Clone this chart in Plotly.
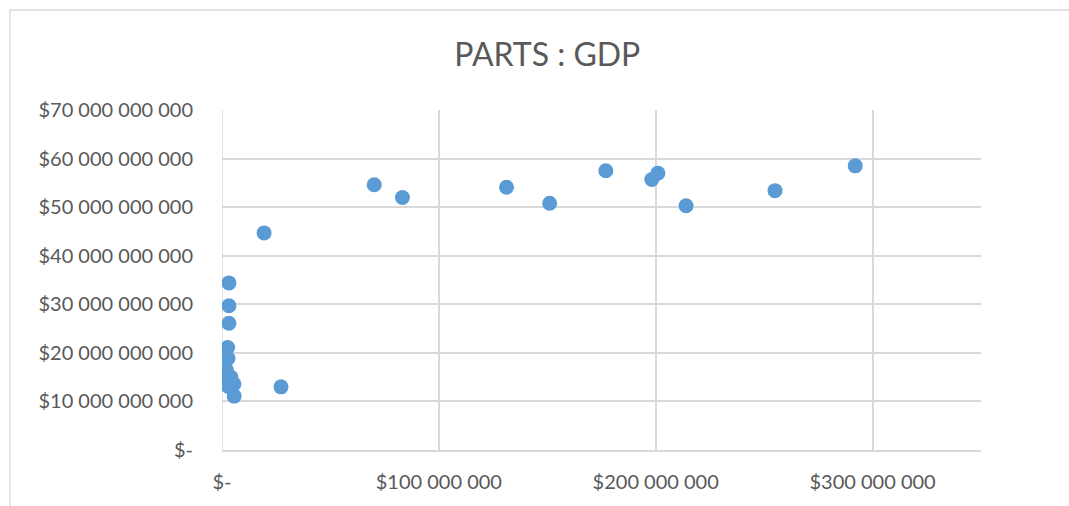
import plotly.graph_objects as go

title = "PARTS : GDP"

# x: GDP-like values (USD), y: PARTS values (USD)
x_values = [70.2e6, 83.2e6, 131.2e6, 151.1e6, 177e6, 198.2e6, 201e6, 214e6, 255e6, 292e6,
            19.4e6, 27.2e6,
            3.2e6, 3.2e6, 3.2e6, 2.6e6, 2.8e6, 2.0e6, 4.1e6, 1.1e6, 5.5e6, 2.9e6, 5.6e6]
y_values = [54.6e9, 52.0e9, 54.1e9, 50.8e9, 57.5e9, 55.7e9, 57.0e9, 50.3e9, 53.4e9, 58.5e9,
            44.7e9, 13.0e9,
            34.4e9, 29.7e9, 26.1e9, 21.1e9, 18.9e9, 16.5e9, 15.0e9, 14.3e9, 13.6e9, 13.1e9, 11.1e9]

x_ticks = [0, 100e6, 200e6, 300e6]
x_tick_labels = ["$-", "$100 000 000", "$200 000 000", "$300 000 000"]
y_ticks = [0, 10e9, 20e9, 30e9, 40e9, 50e9, 60e9, 70e9]
y_tick_labels = ["$-", "$10 000 000 000", "$20 000 000 000", "$30 000 000 000",
                 "$40 000 000 000", "$50 000 000 000", "$60 000 000 000", "$70 000 000 000"]

W, H = 1069, 506
ml, mr, mt, mb = 222, 88, 110, 56
pw, ph = W - ml - mr, H - mt - mb

FONT = "Lato"
TXT = "#595959"
GRID = "#d9d9d9"

fig = go.Figure(go.Scatter(
    x=x_values, y=y_values, mode="markers",
    marker=dict(color="#5b9bd5", size=15, line=dict(width=0)),
    hoverinfo="x+y"))

fig.update_layout(
    width=W, height=H,
    margin=dict(l=ml, r=mr, t=mt, b=mb, autoexpand=False),
    paper_bgcolor="white", plot_bgcolor="white",
    showlegend=False,
    font=dict(family=FONT, color=TXT, size=20),
    title=dict(text=title, x=0.512, xanchor="center", y=1 - 55 / H, yanchor="middle",
               font=dict(family=FONT, size=32, color=TXT)),
    xaxis=dict(range=[0, 350e6], tickvals=x_ticks, ticktext=x_tick_labels, automargin=False,
               showgrid=True, gridcolor=GRID, gridwidth=1.5,
               showline=True, linecolor=GRID, linewidth=1.5, zeroline=False,
               ticks="", ticklabelstandoff=13, tickfont=dict(size=20, color=TXT)),
    yaxis=dict(range=[0, 70e9], tickvals=y_ticks, ticktext=y_tick_labels, automargin=False,
               showgrid=True, gridcolor=GRID, gridwidth=1.5,
               showline=False, zeroline=False,
               ticks="", ticklabelstandoff=28, tickfont=dict(size=20, color=TXT)),
    shapes=[
        dict(type="rect", xref="paper", yref="paper",
             x0=(10 - ml) / pw, x1=(W + 10 - ml) / pw,
             y0=-(H + 10 - mt - ph) / ph, y1=1 + (mt - 10) / ph,
             line=dict(color="#d9d9d9", width=1.3), fillcolor="rgba(0,0,0,0)", layer="below"),
        dict(type="line", xref="x", yref="paper", x0=0, x1=0, y0=0, y1=1,
             line=dict(color=GRID, width=1.5), layer="below"),
    ],
)

fig.write_html("out.html")
